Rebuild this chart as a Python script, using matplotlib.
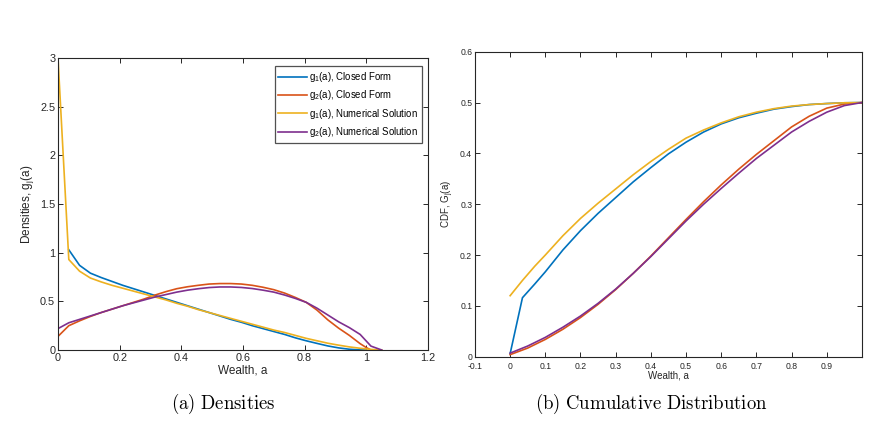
import matplotlib
matplotlib.use("Agg")
import matplotlib.pyplot as plt

plt.rcParams["font.family"] = ["Liberation Sans", "DejaVu Sans"]
plt.rcParams["mathtext.fontset"] = "custom"
plt.rcParams["mathtext.rm"] = "Liberation Sans"
plt.rcParams["mathtext.it"] = "Liberation Sans"

# MATLAB default colours
C_BLUE, C_RED, C_YEL, C_PUR = "#0072BD", "#D95319", "#EDB120", "#7E2F8E"
INK = "#262626"

# ---- (a) densities ----------------------------------------------------------
a_g1c = [0.035, 0.07, 0.105, 0.14, 0.175, 0.21, 0.245, 0.28, 0.315, 0.35,
         0.385, 0.42, 0.455, 0.49, 0.525, 0.56, 0.595, 0.63, 0.665, 0.7,
         0.735, 0.77, 0.805, 0.84, 0.875, 0.91, 0.945, 0.98, 1.0]
g1_closed = [1.03, 0.87, 0.79, 0.745, 0.705, 0.665, 0.63, 0.595, 0.56, 0.525,
             0.49, 0.455, 0.42, 0.385, 0.35, 0.315, 0.285, 0.25, 0.22, 0.19,
             0.16, 0.125, 0.095, 0.068, 0.042, 0.022, 0.008, 0.001, 0.0]

a_g1n = [0.0, 0.035, 0.07, 0.105, 0.14, 0.175, 0.21, 0.245, 0.28, 0.315,
         0.35, 0.385, 0.42, 0.455, 0.49, 0.525, 0.56, 0.595, 0.63, 0.665,
         0.7, 0.735, 0.77, 0.805, 0.84, 0.875, 0.91, 0.945, 0.98, 1.015, 1.05]
g1_num = [3.0, 0.93, 0.81, 0.74, 0.70, 0.665, 0.635, 0.605, 0.575, 0.545,
          0.515, 0.48, 0.45, 0.415, 0.385, 0.355, 0.325, 0.295, 0.265, 0.235,
          0.205, 0.18, 0.15, 0.12, 0.095, 0.07, 0.05, 0.032, 0.018, 0.006, 0.0]

a_g2c = [0.0, 0.035, 0.07, 0.105, 0.14, 0.175, 0.21, 0.245, 0.28, 0.315,
         0.35, 0.385, 0.42, 0.455, 0.49, 0.525, 0.56, 0.595, 0.63, 0.665,
         0.7, 0.735, 0.77, 0.805, 0.84, 0.875, 0.91, 0.945, 0.98, 1.0, 1.015]
g2_closed = [0.14, 0.25, 0.30, 0.345, 0.385, 0.42, 0.455, 0.49, 0.525, 0.565,
             0.60, 0.63, 0.65, 0.665, 0.678, 0.683, 0.683, 0.678, 0.665, 0.645,
             0.62, 0.585, 0.54, 0.49, 0.41, 0.31, 0.225, 0.15, 0.065, 0.025, 0.0]

a_g2n = a_g1n
g2_num = [0.22, 0.28, 0.315, 0.35, 0.385, 0.42, 0.455, 0.485, 0.515, 0.545,
          0.57, 0.595, 0.615, 0.63, 0.642, 0.648, 0.648, 0.643, 0.632, 0.615,
          0.595, 0.565, 0.53, 0.49, 0.43, 0.36, 0.29, 0.23, 0.16, 0.04, 0.0]

# ---- (b) cumulative distribution -------------------------------------------
a_G1 = [0.0, 0.035, 0.07, 0.1, 0.15, 0.2, 0.25, 0.3, 0.35, 0.4, 0.45, 0.5,
        0.55, 0.6, 0.65, 0.7, 0.75, 0.8, 0.85, 0.9, 0.95, 1.0]
G1_closed = [0.006, 0.116, 0.143, 0.167, 0.21, 0.248, 0.282, 0.313, 0.344,
             0.372, 0.399, 0.422, 0.442, 0.458, 0.47, 0.479, 0.487, 0.492,
             0.496, 0.498, 0.4995, 0.5]
G1_num = [0.12, 0.15, 0.178, 0.20, 0.238, 0.272, 0.302, 0.33, 0.358, 0.384,
          0.408, 0.43, 0.446, 0.46, 0.472, 0.481, 0.488, 0.493, 0.496, 0.498,
          0.4995, 0.5]

a_G2 = [0.0, 0.05, 0.1, 0.15, 0.2, 0.25, 0.3, 0.35, 0.4, 0.45, 0.5, 0.55,
        0.6, 0.65, 0.7, 0.75, 0.8, 0.85, 0.9, 0.95, 1.0]
G2_closed = [0.004, 0.017, 0.034, 0.054, 0.077, 0.103, 0.132, 0.164, 0.198,
             0.234, 0.27, 0.305, 0.338, 0.369, 0.398, 0.425, 0.452, 0.473,
             0.489, 0.497, 0.5]
G2_num = [0.007, 0.021, 0.038, 0.058, 0.08, 0.105, 0.133, 0.164, 0.197,
          0.232, 0.267, 0.30, 0.331, 0.361, 0.39, 0.416, 0.442, 0.463,
          0.481, 0.494, 0.5]

labels = [r"g$_1$(a), Closed Form", r"g$_2$(a), Closed Form",
          r"g$_1$(a), Numerical Solution", r"g$_2$(a), Numerical Solution"]


def matlab_axes(ax, fs, xpad=2):
    ax.tick_params(direction="in", top=True, right=True, length=3.5,
                   width=0.7, colors=INK, labelsize=fs, pad=2)
    ax.tick_params(axis="x", pad=xpad)
    for s in ax.spines.values():
        s.set_linewidth(0.8)
        s.set_color(INK)


fig = plt.figure(figsize=(8.71, 4.28), dpi=100)

ax1 = fig.add_axes([0.0666, 0.1822, 0.4248, 0.682])
lw = 1.2
ax1.plot(a_g1c, g1_closed, color=C_BLUE, lw=lw, label=labels[0])
ax1.plot(a_g2c, g2_closed, color=C_RED, lw=lw, label=labels[1])
ax1.plot(a_g1n, g1_num, color=C_YEL, lw=lw, label=labels[2])
ax1.plot(a_g2n, g2_num, color=C_PUR, lw=lw, label=labels[3])
ax1.set_xlim(0, 1.2)
ax1.set_ylim(0, 3)
ax1.set_xticks([0, 0.2, 0.4, 0.6, 0.8, 1, 1.2])
ax1.set_xticklabels(["0", "0.2", "0.4", "0.6", "0.8", "1", "1.2"])
ax1.set_yticks([0, 0.5, 1, 1.5, 2, 2.5, 3])
ax1.set_yticklabels(["0", "0.5", "1", "1.5", "2", "2.5", "3"])
matlab_axes(ax1, 7.8)
ax1.set_xlabel("Wealth, a", fontsize=8.5, color=INK, labelpad=1)
ax1.set_ylabel(r"Densities, g$_j$(a)", fontsize=8.5, color=INK, labelpad=3)
leg = ax1.legend(loc="upper right", bbox_to_anchor=(0.983, 0.972), fontsize=6.9,
                 frameon=True, fancybox=False, handlelength=3.0,
                 handletextpad=0.2, labelspacing=0.45, borderpad=0.4,
                 borderaxespad=0.0)
leg.get_frame().set_edgecolor(INK)
leg.get_frame().set_linewidth(0.9)

ax2 = fig.add_axes([0.5453, 0.1666, 0.4443, 0.7126])
ax2.plot(a_G1, G1_closed, color=C_BLUE, lw=lw)
ax2.plot(a_G2, G2_closed, color=C_RED, lw=lw)
ax2.plot(a_G1, G1_num, color=C_YEL, lw=lw)
ax2.plot(a_G2, G2_num, color=C_PUR, lw=lw)
ax2.set_xlim(-0.1, 1.0)
ax2.set_ylim(0, 0.6)
ax2.set_xticks([-0.1, 0, 0.1, 0.2, 0.3, 0.4, 0.5, 0.6, 0.7, 0.8, 0.9])
ax2.set_xticklabels(["-0.1", "0", "0.1", "0.2", "0.3", "0.4", "0.5", "0.6",
                     "0.7", "0.8", "0.9"])
ax2.set_yticks([0, 0.1, 0.2, 0.3, 0.4, 0.5, 0.6])
ax2.set_yticklabels(["0", "0.1", "0.2", "0.3", "0.4", "0.5", "0.6"])
matlab_axes(ax2, 6.2, xpad=3.5)
ax2.set_xlabel("Wealth, a", fontsize=7, color=INK, labelpad=0)
ax2.set_ylabel(r"CDF, G$_j$(a)", fontsize=7, color=INK, labelpad=3)

fig.text(223 / 871, 1 - 404 / 428, r"$\mathrm{(a)\ Densities}$",
         math_fontfamily="cm", fontsize=13.5, ha="center", va="center")
fig.text(651 / 871, 1 - 404 / 428, r"$\mathrm{(b)\ Cumulative\ Distribution}$",
         math_fontfamily="cm", fontsize=13.5, ha="center", va="center")

fig.savefig("out.png", dpi=100)
